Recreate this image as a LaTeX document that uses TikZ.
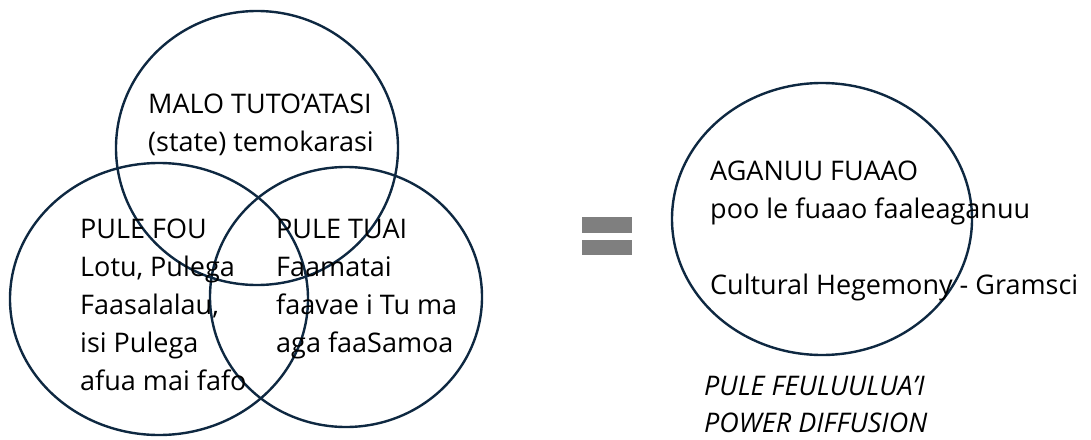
\documentclass[tikz,border=0pt]{standalone}
\usepackage{fontspec}
\setmainfont{Open Sans}
\usetikzlibrary{shapes.geometric}
\usetikzlibrary{calc}
\definecolor{ringcol}{HTML}{0E2841}
\definecolor{eqgray}{HTML}{7F7F7F}

\begin{document}
\begin{tikzpicture}[x=1pt, y=-1pt]
        % ================= styles =================
        \tikzset{
            % the rings of the Venn diagram
            ring/.style={ellipse, draw=ringcol, line width=2.4pt, inner sep=0pt},
            % the text blocks (placed at the baseline of their last line)
            words/.style={align=left, inner sep=0pt, anchor=base west, font=\fontsize{27}{38}\selectfont},
            % the two bars of the equal sign
            eqbar/.style={rectangle, fill=eqgray, inner sep=0pt, minimum width=50pt, minimum height=15.5pt}
        }
        \useasboundingbox (0,0) rectangle (1091,439);

        % ================= 1. three rings =================
        \node[ring, minimum width=282pt, minimum height=274pt] (state) at (257,148) {};
        \node[ring, minimum width=298pt, minimum height=272pt] (fou) at (159,299) {};
        \node[ring, minimum width=272pt, minimum height=260pt] (tuai) at (346,297) {};

        % ================= 2. equal sign =================
        \node[eqbar] (eqtop) at (607,225) {};
        \node[eqbar] (eqbot) at (607,247.5) {};

        % ================= 3. right ring =================
        \node[ring, minimum width=300pt, minimum height=272pt] (fuaao) at (822,219) {};

        % ================= 4. texts =================
        \node[words] (stateTxt) at (148,151) {MALO TUTO’ATASI\\(state) temokarasi};
        \node[words] (fouTxt) at (80,390) {PULE FOU\\Lotu, Pulega\\Faasalalau,\\isi Pulega\\afua mai fafo};
        \node[words] (tuaiTxt) at (276,352) {PULE TUAI\\Faamatai\\faavae i Tu ma\\aga faaSamoa};
        \node[words] (fuaaoTxt) at (710,294) {AGANUU FUAAO\\poo le fuaao faaleaganuu\\[38pt]Cultural Hegemony - Gramsci};
        \node[words, font=\fontsize{27}{37}\selectfont\itshape] (diffTxt) at (704,432) {PULE FEULUULUA’I\\POWER DIFFUSION};

    \end{tikzpicture}
\end{document}
